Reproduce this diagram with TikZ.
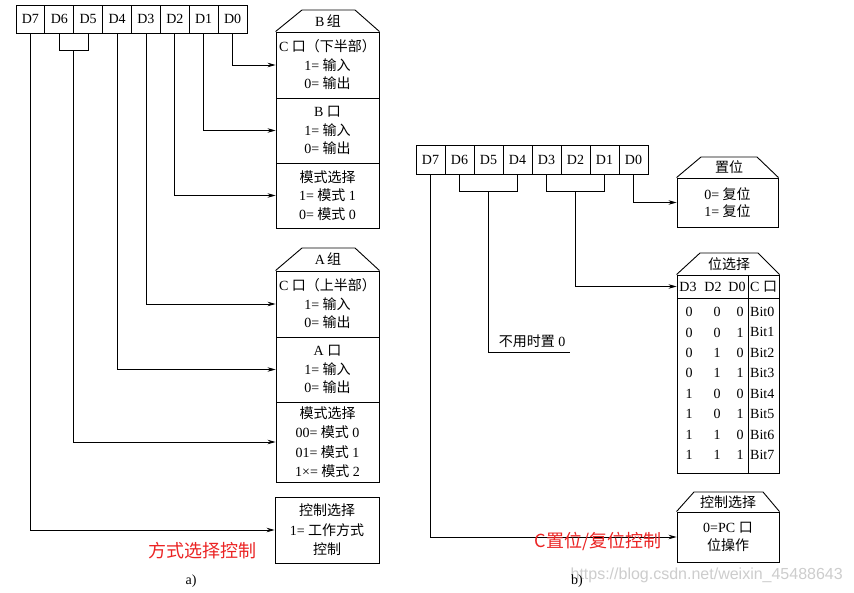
\documentclass[tikz,border=0pt]{standalone}
\usepackage{fontspec}
\setmainfont{Liberation Serif}
\newfontfamily\cjk{Noto Sans CJK SC}
\newfontfamily\wmfont{Liberation Sans}
\usetikzlibrary{arrows.meta,calc}
\definecolor{lblred}{RGB}{235,35,35}
\definecolor{wmgray}{RGB}{205,205,205}
\tikzset{
  cell/.style={draw, line width=0.9pt, minimum width=28.875pt, minimum height=28pt, inner sep=0pt, font=\fontsize{14}{16}\selectfont},
  sec/.style={draw, line width=0.9pt, inner sep=0pt, align=center, font=\fontsize{14}{18.5}\selectfont},
  roof/.style={line width=0.9pt},
  rooflbl/.style={font=\fontsize{14}{16}\selectfont, inner sep=0pt},
  conn/.style={line width=0.8pt, -{Stealth[length=8pt,width=4.5pt]}},
  wire/.style={line width=0.8pt},
  tcell/.style={font=\fontsize{14}{16}\selectfont, inner sep=0pt},
  redlbl/.style={font=\cjk\fontsize{18}{20}\selectfont, text=lblred, inner sep=0pt},
  figcaption/.style={font=\fontsize{14}{16}\selectfont, inner sep=0pt}
}
\begin{document}
\begin{tikzpicture}[x=1pt,y=-1pt]
\useasboundingbox[fill=white] (0,0) rectangle (854,593);

% ---------- (a) left register ----------
\foreach \i in {7,...,0}
  \node[cell] (l\i) at ({16+(7.5-\i)*28.875},19) {D\i};

% B group
\node[sec, minimum width=103pt, minimum height=66pt] (b1) at (327.5,65)
  {C {\cjk 口（下半部）}\\1= {\cjk 输入}\\0= {\cjk 输出}};
\node[sec, minimum width=103pt, minimum height=65pt] (b2) at (327.5,130.5)
  {B {\cjk 口}\\1= {\cjk 输入}\\0= {\cjk 输出}};
\node[sec, minimum width=103pt, minimum height=65pt] (b3) at (327.5,195.5)
  {{\cjk 模式选择}\\1= {\cjk 模式} 1\\0= {\cjk 模式} 0};
\draw[roof] (b1.north west) -- (302,10) -- (355,10) -- (b1.north east);
\node[rooflbl] (bg) at (328,21) {B\,{\cjk 组}};

% A group
\node[sec, minimum width=103pt, minimum height=66pt] (a1) at (327.5,304)
  {C {\cjk 口（上半部）}\\1= {\cjk 输入}\\0= {\cjk 输出}};
\node[sec, minimum width=103pt, minimum height=65pt] (a2) at (327.5,369.5)
  {A {\cjk 口}\\1= {\cjk 输入}\\0= {\cjk 输出}};
\node[sec, minimum width=103pt, minimum height=80pt, font=\fontsize{14}{19.5}\selectfont] (a3) at (327.5,442)
  {{\cjk 模式选择}\\00= {\cjk 模式} 0\\01= {\cjk 模式} 1\\1×= {\cjk 模式} 2};
\draw[roof] (a1.north west) -- (302,248) -- (355,248) -- (a1.north east);
\node[rooflbl] (ag) at (328,259) {A\,{\cjk 组}};

% control select (a)
\node[sec, minimum width=104pt, minimum height=66pt, font=\fontsize{14}{19.5}\selectfont] (ctl) at (327,530)
  {{\cjk 控制选择}\\1= {\cjk 工作方式}\\{\cjk 控制}};

% connectors (a)
\draw[conn] (l0.south) |- (b1.west);
\draw[conn] (l1.south) |- (b2.west);
\draw[conn] (l2.south) |- (b3.west);
\draw[conn] (l3.south) |- (a1.west);
\draw[conn] (l4.south) |- (a2.west);
\draw[wire] (l6.south) -- ++(0,17) -| (l5.south);
\coordinate (lb) at ($(l6.south)!0.5!(l5.south)+(0,17)$);
\draw[conn] (lb) |- (a3.west);
\draw[conn] (l7.south) |- (ctl.west);

\node[redlbl] (redA) at (202,551) {方式选择控制};
\node[figcaption] (capA) at (191,581) {a)};

% ---------- (b) right register ----------
\foreach \i in {7,...,0}
  \node[cell, minimum width=29pt, minimum height=29pt] (r\i) at ({416+(7.5-\i)*29},159.5) {D\i};

% set/reset box
\node[sec, minimum width=101pt, minimum height=49pt, font=\fontsize{14}{17}\selectfont] (zw) at (727.5,202.5)
  {0= {\cjk 复位}\\1= {\cjk 复位}};
\draw[roof] (zw.north west) -- (701,157) -- (757,157) -- (zw.north east);
\node[rooflbl, font=\cjk\fontsize{14}{16}\selectfont] (zwl) at (729,167) {置位};

% bit select table
\node[draw, line width=0.9pt, minimum width=102pt, minimum height=23pt, inner sep=0pt] (th) at (728,286.5) {};
\node[draw, line width=0.9pt, minimum width=102pt, minimum height=175pt, inner sep=0pt] (tb) at (728,385.5) {};
\draw[line width=0.9pt] (748,275) -- (748,473);
\draw[roof] (th.north west) -- (700,253) -- (758,253) -- (th.north east);
\node[rooflbl, font=\cjk\fontsize{14}{16}\selectfont] (twl) at (729,264) {位选择};
\node[tcell] (h3) at (688,287) {D3};
\node[tcell] (h2) at (713,287) {D2};
\node[tcell] (h0) at (737,287) {D0};
\node[tcell, anchor=west] (hc) at (750,287) {C {\cjk 口}};
\foreach \k/\a/\b/\c in {0/0/0/0,1/0/0/1,2/0/1/0,3/0/1/1,4/1/0/0,5/1/0/1,6/1/1/0,7/1/1/1}{
  \node[tcell] (ta\k) at (689,{312+\k*20.43}) {\a};
  \node[tcell] (tb\k) at (717,{312+\k*20.43}) {\b};
  \node[tcell] (tc\k) at (740,{312+\k*20.43}) {\c};
  \node[tcell, anchor=west] (td\k) at (750,{312+\k*20.43}) {Bit\k};
}

% control select (b)
\node[sec, minimum width=102pt, minimum height=50pt, font=\fontsize{14}{18}\selectfont] (cr) at (728,537)
  {0=PC {\cjk 口}\\{\cjk 位操作}};
\draw[roof] (cr.north west) -- (694,492) -- (763,492) -- (cr.north east);
\node[rooflbl, font=\cjk\fontsize{14}{16}\selectfont] (crl) at (728,502) {控制选择};

% connectors (b)
\draw[conn] (r0.south) |- (zw.west);
\draw[wire] (r6.south) -- ++(0,17) -| (r4.south);
\coordinate (rb1) at ($(r6.south)!0.5!(r4.south)+(0,17)$);
\coordinate (nu) at (570,352);
\draw[wire] (rb1) |- (nu);
\node[tcell] (nul) at (532,341) {{\cjk 不用时置} 0};
\draw[wire] (r3.south) -- ++(0,17) -| (r1.south);
\coordinate (rb2) at ($(r3.south)!0.5!(r1.south)+(0,17)$);
\draw[conn] (rb2) |- (th.west);
\draw[conn] (r7.south) |- (cr.west);

\node[redlbl] (redB) at (598,541) {C置位/复位控制};
\node[anchor=east, inner sep=0pt, text=wmgray, font=\wmfont\fontsize{16}{18}\selectfont] (wm) at (843,575) {https://blog.csdn.net/weixin\_45488643};
\node[figcaption] (capB) at (577,581) {b)};
\end{tikzpicture}
\end{document}
